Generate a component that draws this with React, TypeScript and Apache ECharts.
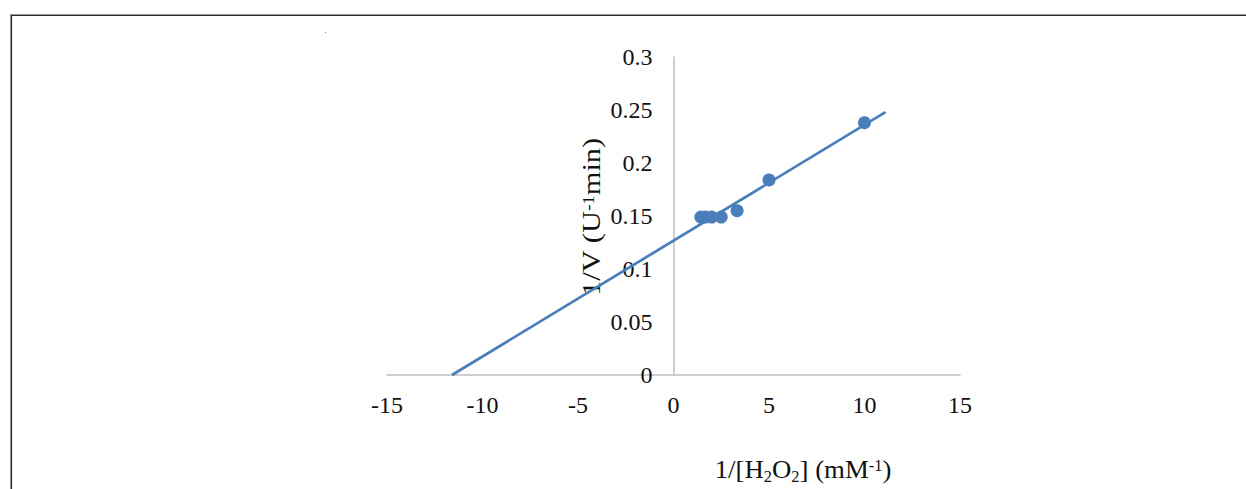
import React, { useEffect, useRef } from "react";
import * as echarts from "echarts";

// Lineweaver-Burk data: 1/[H2O2] (mM^-1) vs 1/V (U^-1 min)
const xValues = [1.43, 1.67, 2, 2.5, 3.33, 5, 10];
const yValues = [0.149, 0.149, 0.149, 0.149, 0.155, 0.184, 0.238];

// Linear trendline endpoints
const trendX = [-11.6, 11.1];
const trendY = [0, 0.248];

const xMin = -15;
const xMax = 15;
const xStep = 5;
const yMin = 0;
const yMax = 0.3;
const yStep = 0.05;

const xTitle = "{n|1/[H}{s|2}{n|O}{s|2}{n|] (mM}{p|-1}{n|)}";
const yTitle = "{n|1/V (U}{p|-1}{n|min)}";

const FONT = "'Liberation Serif', 'Times New Roman', serif";
const BLUE = "#4a7ebb";

const GRID_LEFT = 387;
const GRID_RIGHT = 286;
const PLOT_W = 1246 - GRID_LEFT - GRID_RIGHT;

const richStyles = {
  n: { fontSize: 26, fontFamily: FONT, fill: "#111", lineHeight: 32 },
  s: { fontSize: 16, fontFamily: FONT, fill: "#111", lineHeight: 16, verticalAlign: "bottom" },
  p: { fontSize: 16, fontFamily: FONT, fill: "#111", lineHeight: 16, verticalAlign: "middle", padding: [0, 0, 6, 0] },
};

export default function App() {
  const ref = useRef<HTMLDivElement>(null);

  useEffect(() => {
    if (!ref.current) return;
    const chart = echarts.init(ref.current, null, { renderer: "svg" });
    const points = xValues.map((x, i) => [x, yValues[i]]);
    const trend = trendX.map((x, i) => [x, trendY[i]]);
    // place the y axis (with its labels) at x = 0
    const yAxisOffset = -PLOT_W * ((0 - xMin) / (xMax - xMin));

    chart.setOption({
      animation: false,
      backgroundColor: "#ffffff",
      grid: { left: GRID_LEFT, right: GRID_RIGHT, top: 57, bottom: 114, containLabel: false },
      xAxis: {
        type: "value",
        min: xMin,
        max: xMax,
        interval: xStep,
        axisLine: { show: true, onZero: true, lineStyle: { color: "#bfbfbf", width: 1.5 } },
        axisTick: { show: false },
        splitLine: { show: false },
        axisLabel: { margin: 18, fontSize: 24, fontFamily: FONT, color: "#111" },
      },
      yAxis: {
        type: "value",
        position: "left",
        offset: yAxisOffset,
        min: yMin,
        max: yMax,
        interval: yStep,
        axisLine: { show: true, onZero: false, lineStyle: { color: "#bfbfbf", width: 1.5 } },
        axisTick: { show: false },
        splitLine: { show: false },
        axisLabel: { margin: 21, fontSize: 24, fontFamily: FONT, color: "#111" },
      },
      series: [
        {
          type: "line",
          data: trend,
          showSymbol: false,
          symbol: "none",
          lineStyle: { color: BLUE, width: 2.75 },
          z: 2,
        },
        {
          type: "scatter",
          data: points,
          symbol: "circle",
          symbolSize: 13,
          itemStyle: { color: "#4a7ebb", opacity: 1 },
          z: 3,
        },
      ],
      graphic: [
        { type: "line", shape: { x1: 10, y1: 14.5, x2: 1246, y2: 14.5 }, style: { stroke: "#9a9a9a", lineWidth: 1 } },
        { type: "line", shape: { x1: 10, y1: 15.5, x2: 1246, y2: 15.5 }, style: { stroke: "#2b2b2b", lineWidth: 1.2 } },
        { type: "line", shape: { x1: 10.5, y1: 14, x2: 10.5, y2: 489 }, style: { stroke: "#9a9a9a", lineWidth: 1 } },
        { type: "line", shape: { x1: 11.5, y1: 15, x2: 11.5, y2: 489 }, style: { stroke: "#2b2b2b", lineWidth: 1.2 } },
        { type: "rect", shape: { x: 325, y: 32, width: 1, height: 1 }, style: { fill: "#888" } },
        {
          type: "text",
          x: 803,
          y: 469,
          scaleX: 1.03,
          style: { text: xTitle, rich: richStyles, align: "center", verticalAlign: "middle" },
        },
        {
          type: "text",
          x: 591,
          y: 217,
          rotation: Math.PI / 2,
          scaleX: 1.17,
          style: { text: yTitle, rich: richStyles, align: "center", verticalAlign: "middle" },
        },
      ],
    });

    return () => chart.dispose();
  }, []);

  return (
    <div
      ref={ref}
      style={{ position: "fixed", left: 0, top: 0, width: 1246, height: 489, background: "#fff" }}
    />
  );
}
